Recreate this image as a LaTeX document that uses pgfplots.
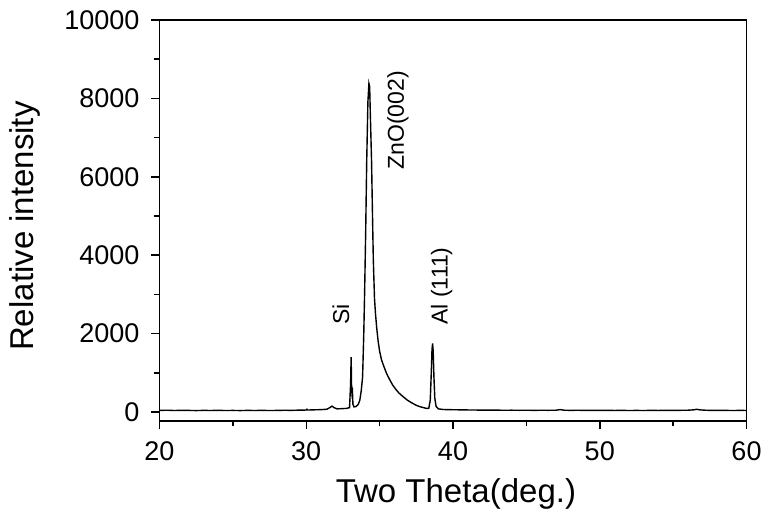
\documentclass[border=0pt]{standalone}
\usepackage{fontspec}
\setmainfont{Liberation Sans}
\usepackage{pgfplots}
\pgfplotsset{compat=1.18}

\begin{document}
\begin{tikzpicture}
\begin{axis}[
  scale only axis,
  width=293.5pt, height=200.5pt,
  xmin=20, xmax=60, ymin=-230, ymax=10000,
  xtick={20,30,...,60}, ytick={0,2000,...,10000},
  scaled ticks=false,
  minor x tick num=1, minor y tick num=1,
  tick pos=left, tick align=outside,
  major tick length=4pt, minor tick length=2.5pt,
  axis line style={line width=0.75pt},
  every tick/.style={line width=0.75pt, black},
  /pgf/number format/1000 sep={},
  /pgf/number format/assume math mode=true,
  tick label style={font=\fontsize{13.5}{15}\selectfont},
  xticklabel style={yshift=-3pt},
  yticklabel style={xshift=-2.5pt},
  label style={font=\fontsize{16.5}{19}\selectfont},
  xlabel={Two Theta(deg.)},
  ylabel={Relative intensity},
  xlabel style={at={(axis description cs:0.505,-0.183)}, anchor=center},
  ylabel style={at={(axis description cs:-0.229,0.486)}, anchor=center},
]
\addplot[black, line width=0.7pt] coordinates {
(20,40) (20.5,45) (21,38) (21.5,42) (22,40) (22.5,36) (23,41) (23.5,38)
(24,43) (24.5,37) (25,40) (25.5,36) (26,41) (26.5,38) (27,42) (27.5,37)
(28,40) (28.5,44) (29,42) (29.5,47) (30,50) (30.05,70) (30.1,50) (30.5,55)
(31,60) (31.4,70) (31.6,110) (31.75,150) (31.9,110) (32.1,80) (32.4,85)
(32.7,90) (32.95,110) (33.02,700) (33.06,1400) (33.09,600) (33.12,450)
(33.15,500) (33.18,200) (33.25,130) (33.4,140) (33.55,200) (33.65,300)
(33.75,550) (33.84,900) (33.92,2000) (33.98,3100) (34.05,4600) (34.12,6400)
(34.2,7900) (34.27,8380) (34.32,8300) (34.38,7400) (34.45,6400) (34.52,4900)
(34.57,3880) (34.65,2900) (34.72,2500) (34.8,2150) (34.9,1800) (35.0,1550)
(35.13,1330) (35.3,1150) (35.5,960) (35.7,816) (35.9,680) (36.1,580)
(36.3,490) (36.6,390) (36.9,300) (37.2,230) (37.5,170) (37.75,135)
(38.0,110) (38.2,90) (38.35,95) (38.45,300) (38.52,1000) (38.57,1600)
(38.61,1750) (38.65,1550) (38.70,900) (38.76,350) (38.85,140) (39.0,80)
(39.3,65) (39.6,60) (40,58) (40.5,55) (41,52) (41.5,50) (42,48) (42.5,46)
(43,47) (43.5,44) (44,46) (44.5,43) (45,45) (45.5,42) (46,44) (46.5,43)
(47,45) (47.3,60) (47.6,45) (48,42) (48.5,44) (49,41) (49.5,43) (50,40)
(50.5,42) (51,39) (51.5,41) (52,38) (52.5,40) (53,38) (53.5,41) (54,39)
(54.5,42) (55,40) (55.5,43) (56,45) (56.4,55) (56.6,70) (56.8,55)
(57.2,45) (57.5,42) (58,40) (58.5,41) (59,38) (59.5,40) (60,39)
};
\node[rotate=90, anchor=west, inner sep=0pt, font=\fontsize{11.5}{13}\selectfont] at (axis cs:36.25,6170) {ZnO(002)};
\node[rotate=90, anchor=west, inner sep=0pt, font=\fontsize{11.5}{13}\selectfont] at (axis cs:32.36,2220) {Si};
\node[rotate=90, anchor=west, inner sep=0pt, font=\fontsize{11.5}{13}\selectfont] at (axis cs:39.22,2220) {Al (111)};
\end{axis}
\pgfresetboundingbox
\path (-79.75pt,-52pt) rectangle (304.75pt,210.5pt);
\end{tikzpicture}
\end{document}
